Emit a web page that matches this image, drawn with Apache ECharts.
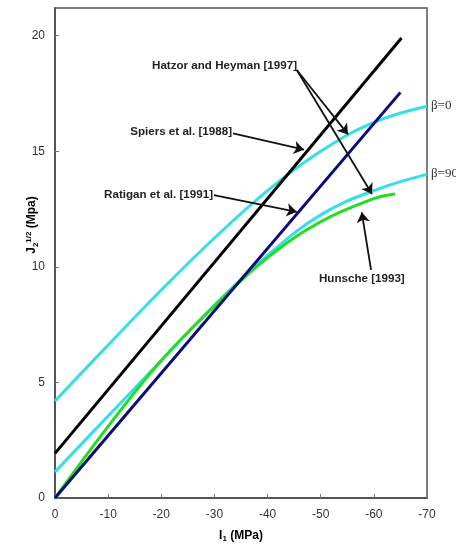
<!DOCTYPE html>
<html>
<head>
<meta charset="utf-8">
<script src="https://cdn.jsdelivr.net/npm/echarts@6/dist/echarts.min.js"></script>
<style>
html,body{margin:0;padding:0;background:#fff;}
#chart{width:456px;height:545px;}
</style>
</head>
<body>
<div id="chart"></div>
<script>
// ---- data ----
const xTicks = [0, -10, -20, -30, -40, -50, -60, -70];
const yTicks = [0, 5, 10, 15, 20];

const spiersX = [0, -10, -20, -30, -40, -50, -60, -70];
const spiersBeta0 = [4.2, 6.62, 9.0, 11.25, 13.3, 15.0, 16.25, 16.95];
const spiersBeta90 = [1.13, 3.55, 5.95, 8.35, 10.5, 12.25, 13.3, 14.0];

const hunscheX = [0, -10, -20, -30, -40, -50, -60, -64];
const hunscheY = [0, 3.1, 5.95, 8.3, 10.4, 11.95, 12.95, 13.15];

const hatzorX = [0, -65.2];
const hatzorY = [1.93, 19.9];

const ratiganX = [0, -65];
const ratiganY = [0, 17.55];

// annotation arrows: [fromX, fromY, toX, toY] in data units
const arrows = [
  [-45.5, 18.52, -55.14, 15.73],
  [-45.5, 18.52, -59.65, 13.15],
  [-33.5, 15.78, -46.86, 15.07],
  [-29.9, 13.1, -45.48, 12.38],
  [-59.47, 9.87, -57.72, 12.36]
];

function pairs(xs, ys) { return xs.map((x, i) => [x, ys[i]]); }

const chart = echarts.init(document.getElementById('chart'), null, {renderer: 'canvas'});

const labelFont = {fontFamily: 'Liberation Sans, Arial, sans-serif', fontSize: 11.6, fontWeight: 'bold', fill: '#222'};

chart.setOption({
  animation: false,
  backgroundColor: '#fff',
  grid: {left: 55, right: 29, top: 8, bottom: 47, show: true, borderColor: '#555', borderWidth: 1.5},
  xAxis: {
    type: 'value', min: -70, max: 0, interval: 10, inverse: true,
    axisLine: {show: true, lineStyle: {color: '#555', width: 2}},
    axisTick: {show: true, inside: true, length: 4, lineStyle: {color: '#777'}},
    axisLabel: {color: '#333', fontSize: 12, margin: 11, fontFamily: 'Liberation Sans, Arial, sans-serif'},
    splitLine: {show: false}
  },
  yAxis: {
    type: 'value', min: 0, max: 21.2, interval: 5,
    axisLine: {show: true, lineStyle: {color: '#555', width: 2}},
    axisTick: {show: true, inside: true, length: 4, lineStyle: {color: '#777'}},
    axisLabel: {color: '#333', fontSize: 12, margin: 10, showMaxLabel: false, fontFamily: 'Liberation Sans, Arial, sans-serif'},
    splitLine: {show: false}
  },
  series: [
    {type: 'line', name: 'Spiers beta=0', data: pairs(spiersX, spiersBeta0), smooth: 0.4, symbol: 'none',
     lineStyle: {color: '#35dfe8', width: 3}},
    {type: 'line', name: 'Spiers beta=90', data: pairs(spiersX, spiersBeta90), smooth: 0.4, symbol: 'none',
     lineStyle: {color: '#35dfe8', width: 3}},
    {type: 'line', name: 'Hunsche', data: pairs(hunscheX, hunscheY), smooth: 0.4, symbol: 'none',
     lineStyle: {color: '#22dd22', width: 3}},
    {type: 'line', name: 'Hatzor', data: pairs(hatzorX, hatzorY), symbol: 'none',
     lineStyle: {color: '#000', width: 3}},
    {type: 'line', name: 'Ratigan', data: pairs(ratiganX, ratiganY), symbol: 'none',
     lineStyle: {color: '#0b0b7a', width: 3},
     markLine: {
       silent: true, animation: false,
       symbol: ['none', 'arrow'], symbolSize: 10,
       lineStyle: {color: '#111', width: 1.8, type: 'solid'},
       label: {show: false},
       emphasis: {disabled: true},
       data: arrows.map(a => [{coord: [a[0], a[1]]}, {coord: [a[2], a[3]]}])
     }}
  ],
  graphic: [
    {type: 'text', x: 297, y: 66, style: Object.assign({text: 'Hatzor and Heyman [1997]', textAlign: 'right', textVerticalAlign: 'middle'}, labelFont)},
    {type: 'text', x: 232, y: 132, style: Object.assign({text: 'Spiers et al. [1988]', textAlign: 'right', textVerticalAlign: 'middle'}, labelFont)},
    {type: 'text', x: 213, y: 195, style: Object.assign({text: 'Ratigan et al. [1991]', textAlign: 'right', textVerticalAlign: 'middle'}, labelFont)},
    {type: 'text', x: 319, y: 279, style: Object.assign({text: 'Hunsche [1993]', textAlign: 'left', textVerticalAlign: 'middle'}, labelFont)},
    {type: 'text', x: 431, y: 106, style: {text: 'β=0', fontFamily: 'Liberation Serif, Times New Roman, serif', fontSize: 13, fill: '#333', textAlign: 'left', textVerticalAlign: 'middle'}},
    {type: 'text', x: 431, y: 174, style: {text: 'β=90', fontFamily: 'Liberation Serif, Times New Roman, serif', fontSize: 13, fill: '#333', textAlign: 'left', textVerticalAlign: 'middle'}},
    {type: 'text', x: 241, y: 536,
     style: {
       text: '{m|I}{s|1}{m| (MPa)}', textAlign: 'center', textVerticalAlign: 'middle',
       rich: {
         m: {fontFamily: 'Liberation Sans, Arial, sans-serif', fontSize: 12, fontWeight: 'bold', color: '#222'},
         s: {fontFamily: 'Liberation Sans, Arial, sans-serif', fontSize: 8, fontWeight: 'bold', color: '#222', padding: [6, 0, 0, 0]}
       }
     }},
    {type: 'text', x: 32, y: 225, rotation: Math.PI / 2,
     style: {
       text: '{m|J}{s|2}{p|1/2}{m| (Mpa)}', textAlign: 'center', textVerticalAlign: 'middle',
       rich: {
         m: {fontFamily: 'Liberation Sans, Arial, sans-serif', fontSize: 12, fontWeight: 'bold', color: '#222'},
         s: {fontFamily: 'Liberation Sans, Arial, sans-serif', fontSize: 8, fontWeight: 'bold', color: '#222', padding: [7, 0, 0, 0]},
         p: {fontFamily: 'Liberation Sans, Arial, sans-serif', fontSize: 8, fontWeight: 'bold', color: '#222', padding: [0, 0, 7, 0]}
       }
     }}
  ]
});
</script>
</body>
</html>
